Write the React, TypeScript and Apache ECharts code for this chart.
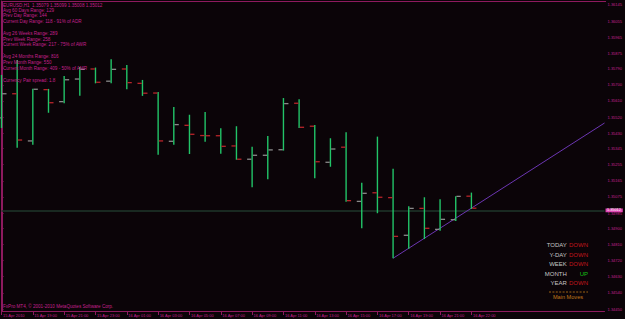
import React, { useEffect, useRef } from "react";
import * as echarts from "echarts";

// ---- data ----
const openPrices = [1.35515, 1.3565, 1.35387, 1.35673, 1.35606, 1.35732, 1.35788, 1.3572, 1.35788, 1.35708, 1.35654, 1.35385, 1.35474, 1.35417, 1.35416, 1.35359, 1.35285, 1.35307, 1.35338, 1.35597, 1.35469, 1.35268, 1.35352, 1.3505, 1.35098, 1.35071, 1.34861, 1.35011, 1.34894, 1.34948, 1.35079];
const highPrices = [1.35755, 1.35838, 1.35678, 1.35677, 1.35749, 1.35799, 1.35796, 1.35842, 1.3581, 1.35727, 1.3566, 1.35576, 1.35533, 1.35548, 1.35458, 1.35469, 1.35355, 1.35415, 1.35626, 1.35619, 1.35476, 1.35402, 1.35435, 1.35154, 1.35411, 1.35232, 1.35023, 1.35073, 1.35062, 1.35078, 1.35099];
const lowPrices = [1.35459, 1.35349, 1.35366, 1.35544, 1.35597, 1.35639, 1.35708, 1.35708, 1.35675, 1.35638, 1.3531, 1.35366, 1.35314, 1.35383, 1.35316, 1.35282, 1.35129, 1.35173, 1.35333, 1.35459, 1.35179, 1.35243, 1.35048, 1.349, 1.34984, 1.34733, 1.34786, 1.3484, 1.34887, 1.34941, 1.35008];
const closePrices = [1.3565, 1.35392, 1.35675, 1.356, 1.35728, 1.35786, 1.35714, 1.35786, 1.35712, 1.35653, 1.35387, 1.35478, 1.35424, 1.35416, 1.35357, 1.35285, 1.35307, 1.35337, 1.35595, 1.35463, 1.35271, 1.35342, 1.35054, 1.35095, 1.35073, 1.34855, 1.35011, 1.349, 1.3495, 1.35078, 1.35012];

const timeTickIndex = [0, 2, 4, 6, 8, 10, 12, 14, 16, 18, 20, 22, 24, 26, 28, 30];
const timeLabels = ["15 Apr 2010", "15 Apr 19:00", "15 Apr 21:00", "15 Apr 23:00", "16 Apr 01:00", "16 Apr 03:00", "16 Apr 05:00", "16 Apr 07:00", "16 Apr 09:00", "16 Apr 11:00", "16 Apr 13:00", "16 Apr 15:00", "16 Apr 17:00", "16 Apr 19:00", "16 Apr 21:00", "16 Apr 22:00"];

const priceTicks = [1.36145, 1.36055, 1.35965, 1.35875, 1.3579, 1.357, 1.3561, 1.3552, 1.3543, 1.35345, 1.35255, 1.35165, 1.35075, 1.34985, 1.349, 1.3481, 1.3472, 1.3463, 1.3454, 1.3445];

const trendX = [25, 38.5];
const trendY = [1.34733, 1.35487];
const bidPrice = 1.35012;

const infoLines = [
  "EURUSD,H1  1.35079 1.35099 1.35008 1.35012",
  "Avg 60 Days Range: 129",
  "Prev Day Range: 144",
  "Current Day Range: 118 - 91% of ADR",
  "Avg 26 Weeks Range: 289",
  "Prev Week Range: 258",
  "Current Week Range: 217 - 75% of AWR",
  "Avg 24 Months Range: 816",
  "Prev Month Range: 550",
  "Current Month Range: 409 - 50% of AMR",
  "Currency Pair spread: 1.8",
];
const infoY = [5.3, 10.3, 15.5, 21.7, 33.3, 39, 44.8, 56.7, 62.5, 68.5, 80.3];

const moveLabels = ["TODAY", "Y-DAY", "WEEK", "MONTH", "YEAR"];
const moveValues = ["DOWN", "DOWN", "DOWN", "UP", "DOWN"];

const copyright = "FxPro MT4, \u00a9 2001-2010 MetaQuotes Software Corp.";

const BG = "#0b0408";
const MAG = "#c4208c";
const FRAME = "#8e1a5e";
const FONT = "'Liberation Sans', Arial, sans-serif";

export default function App() {
  const ref = useRef<HTMLDivElement>(null);

  useEffect(() => {
    document.body.style.margin = "0";
    document.body.style.background = BG;
    if (!ref.current) return;
    const chart = echarts.init(ref.current, null, { renderer: "svg" });

    const bars = openPrices.map((o, i) => [i, o, highPrices[i], lowPrices[i], closePrices[i]]);

    const graphics: any[] = [];
    graphics.push({ type: "line", silent: true, z: 1, shape: { x1: 2, y1: 1.5, x2: 606, y2: 1.5 }, style: { stroke: FRAME, lineWidth: 1 } });
    graphics.push({ type: "line", silent: true, z: 1, shape: { x1: 2.5, y1: 1, x2: 2.5, y2: 311 }, style: { stroke: FRAME, lineWidth: 1 } });
    infoLines.forEach((t, i) => {
      graphics.push({ type: "text", x: 3, y: infoY[i], z: 10, style: { text: t, fill: MAG, fontSize: 4.6, fontFamily: FONT, align: "left", verticalAlign: "middle" } });
    });
    graphics.push({ type: "text", x: 3, y: 306.7, z: 10, style: { text: copyright, fill: MAG, fontSize: 4.6, fontFamily: FONT, align: "left", verticalAlign: "middle" } });
    const rowY = [245, 254.7, 264.3, 273.8, 283.3];
    moveLabels.forEach((t, i) => {
      graphics.push({ type: "text", x: 566.8, y: rowY[i], z: 10, style: { text: t, fill: "#c6c6c6", fontSize: 6, fontFamily: FONT, align: "right", verticalAlign: "middle" } });
      const v = moveValues[i];
      graphics.push({ type: "text", x: 588, y: rowY[i], z: 10, style: { text: v, fill: v === "UP" ? "#14c014" : "#c4161c", fontSize: 6, fontFamily: FONT, align: "right", verticalAlign: "middle" } });
    });
    graphics.push({ type: "line", silent: true, z: 10, shape: { x1: 549, y1: 292, x2: 588, y2: 292 }, style: { stroke: "#c07818", lineWidth: 0.8, lineDash: [2, 1.4] } });
    graphics.push({ type: "text", x: 568, y: 296.8, z: 10, style: { text: "Main Moves", fill: "#c07818", fontSize: 5.6, fontFamily: FONT, align: "center", verticalAlign: "middle" } });

    chart.setOption({
      animation: false,
      backgroundColor: BG,
      grid: { left: 1.3, top: 1, right: 19, bottom: 8 },
      xAxis: {
        type: "value",
        min: 0,
        max: 38.5,
        splitLine: { show: false },
        axisLine: { lineStyle: { color: FRAME, width: 1 } },
        axisTick: { show: true, length: 4, customValues: timeTickIndex, lineStyle: { color: FRAME } },
        axisLabel: {
          customValues: timeTickIndex,
          formatter: (v: number) => {
            const k = timeTickIndex.indexOf(Math.round(v));
            return k >= 0 ? timeLabels[k] : "";
          },
          color: MAG,
          fontSize: 4,
          fontFamily: FONT,
          align: "left",
          margin: 2,
          padding: [0, 0, 0, 1.5],
          showMinLabel: true,
          showMaxLabel: true,
        },
      },
      yAxis: {
        type: "value",
        position: "right",
        min: 1.34439,
        max: 1.36167,
        splitLine: { show: false },
        axisLine: { show: true, lineStyle: { color: FRAME, width: 1 } },
        axisTick: { show: true, length: 2, customValues: priceTicks, lineStyle: { color: FRAME } },
        axisLabel: {
          customValues: priceTicks,
          formatter: (v: number) => v.toFixed(5),
          color: MAG,
          fontSize: 4,
          lineHeight: 4,
          fontFamily: FONT,
          margin: 3,
          showMinLabel: true,
          showMaxLabel: true,
        },
      },
      graphic: graphics,
      series: [
        {
          type: "line",
          data: trendX.map((x, i) => [x, trendY[i]]),
          symbol: "none",
          lineStyle: { color: "#6c36b2", width: 1 },
          z: 3,
          silent: true,
          markLine: {
            silent: true,
            symbol: "none",
            data: [{ yAxis: bidPrice }],
            lineStyle: { color: "#1f362a", width: 1.6, type: "solid" },
            label: {
              show: true,
              position: "end",
              formatter: bidPrice.toFixed(5),
              color: "#ffffff",
              backgroundColor: "#e048b4",
              fontSize: 3.8,
              lineHeight: 3.8,
              fontFamily: FONT,
              padding: [0, 2, 0, 1.5],
              distance: 1,
            },
            z: 1,
          },
        },
        {
          type: "custom",
          data: bars,
          z: 4,
          silent: true,
          renderItem: (params: any, api: any) => {
            const x = api.value(0);
            const o = api.value(1);
            const h = api.value(2);
            const l = api.value(3);
            const c = api.value(4);
            const pO = api.coord([x, o]);
            const pH = api.coord([x, h]);
            const pL = api.coord([x, l]);
            const pC = api.coord([x, c]);
            const up = c > o;
            const tickColor = up ? "#8a8a8a" : "#b8242a";
            const t = 5;
            const sx = pH[0];
            return {
              type: "group",
              children: [
                { type: "line", shape: { x1: sx, y1: pH[1], x2: sx, y2: pL[1] }, style: { stroke: "#22c468", lineWidth: 1.4 } },
                { type: "line", shape: { x1: sx - t, y1: pO[1], x2: sx - 0.7, y2: pO[1] }, style: { stroke: tickColor, lineWidth: 1.3 } },
                { type: "line", shape: { x1: sx + 0.7, y1: pC[1], x2: sx + t, y2: pC[1] }, style: { stroke: tickColor, lineWidth: 1.3 } },
              ],
            };
          },
        },
      ],
    });

    return () => chart.dispose();
  }, []);

  return <div ref={ref} style={{ position: "absolute", left: 0, top: 0, width: 625, height: 319, background: BG }} />;
}
